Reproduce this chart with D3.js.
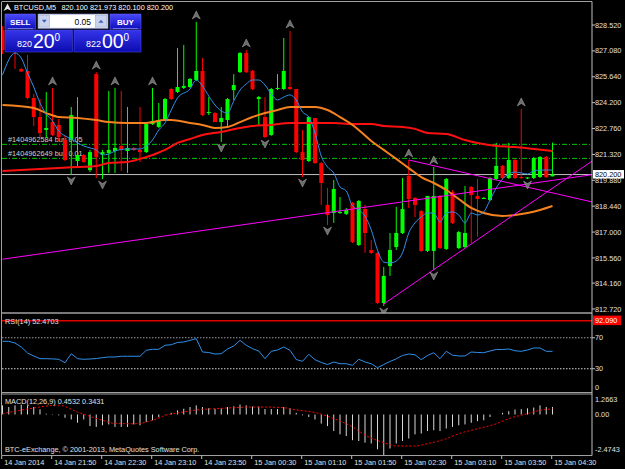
<!DOCTYPE html>
<html>
<head>
<meta charset="utf-8">
<script src="https://cdn.jsdelivr.net/npm/d3@7"></script>
<style>
  body { margin: 0; background: #000; }
  svg { display: block; }
  text { font-family: "Liberation Sans", Arial, sans-serif; }
</style>
</head>
<body>
<div id="chart"></div>
<script>
// BTCUSD M5 candles, 14 Jan 21:10 .. 15 Jan 04:30 (one value per bar)
const opens = [828.24, 827.69, 827.46, 826.07, 825.96, 824.46, 823.40, 822.68, 823.12, 822.96,
  822.12, 822.12, 820.95, 821.29, 820.45, 825.79, 821.34, 821.40, 821.51, 821.79,
  821.51, 821.68, 821.57, 821.45, 823.01, 822.85, 823.29, 824.96, 824.79, 825.02,
  825.07, 825.46, 825.96, 823.62, 823.62, 823.12, 823.23, 824.90, 825.90, 826.96,
  825.96, 824.40, 823.40, 822.40, 824.96, 824.96, 825.07, 824.96, 821.45, 820.95,
  823.35, 820.84, 818.51, 818.06, 818.06, 818.01, 818.62, 816.28, 818.28, 816.00,
  815.84, 813.05, 815.11, 816.17, 816.95, 820.12, 818.90, 818.17, 815.95, 815.95,
  819.01, 816.06, 819.23, 816.11, 816.17, 819.51, 819.01, 818.84, 818.78, 819.95,
  820.68, 820.01, 821.01, 820.06, 820.01, 820.01, 820.06, 821.18, 820.10];
const highs = [828.46, 827.91, 827.69, 826.13, 826.85, 824.68, 824.40, 824.79, 825.02, 823.29,
  822.35, 823.96, 824.51, 821.34, 821.57, 825.90, 821.57, 824.85, 825.02, 824.85,
  823.96, 821.73, 823.96, 823.12, 825.02, 824.18, 824.46, 825.02, 827.24, 827.41,
  825.57, 828.69, 826.68, 824.51, 823.68, 823.96, 824.46, 825.79, 827.02, 827.13,
  826.02, 824.57, 824.51, 825.02, 825.79, 827.80, 828.19, 824.96, 822.68, 823.46,
  823.35, 820.90, 819.45, 819.90, 818.95, 818.34, 818.67, 818.78, 818.51, 816.56,
  815.89, 815.06, 816.95, 818.40, 820.01, 821.01, 818.95, 818.23, 819.01, 820.62,
  819.06, 820.01, 819.34, 817.06, 819.56, 819.56, 819.95, 818.95, 820.06, 821.96,
  820.73, 821.96, 821.07, 823.85, 820.06, 821.18, 821.23, 821.23, 821.973];
const lows = [826.91, 827.13, 826.07, 825.90, 824.40, 822.90, 822.29, 822.23, 822.35, 822.07,
  820.95, 820.18, 820.56, 820.84, 820.34, 820.01, 819.95, 820.29, 820.29, 820.40,
  820.29, 821.51, 820.90, 821.40, 822.96, 822.79, 823.23, 824.35, 824.74, 824.96,
  825.02, 825.40, 823.46, 823.51, 823.12, 822.01, 822.79, 824.35, 825.85, 825.85,
  824.90, 822.96, 822.23, 822.35, 824.90, 824.90, 824.90, 821.40, 820.06, 820.90,
  820.79, 818.51, 817.39, 817.51, 818.01, 817.95, 816.39, 816.23, 815.84, 815.78,
  813.00, 812.89, 814.56, 816.00, 816.89, 818.34, 817.84, 815.89, 815.89, 814.89,
  816.06, 816.00, 817.45, 816.06, 816.11, 816.39, 816.73, 818.84, 818.73, 819.90,
  819.95, 819.95, 819.95, 819.95, 819.95, 819.95, 820.01, 820.01, 820.10];
const closes = [827.13, 827.35, 827.02, 825.93, 824.46, 823.40, 822.51, 822.79, 822.40, 822.29,
  821.01, 823.51, 821.29, 820.90, 821.45, 821.18, 821.45, 821.57, 821.68, 821.57,
  821.68, 821.57, 821.45, 823.01, 823.18, 823.23, 824.40, 824.40, 825.07, 825.13,
  825.52, 825.96, 823.51, 823.68, 823.12, 823.35, 824.40, 825.18, 826.96, 825.90,
  824.96, 824.51, 822.29, 824.96, 825.02, 825.96, 824.96, 821.45, 821.01, 823.40,
  820.84, 819.73, 817.95, 819.40, 818.12, 818.23, 816.45, 818.73, 816.95, 815.84,
  813.05, 814.56, 816.00, 816.95, 818.28, 818.84, 818.51, 815.95, 819.01, 819.01,
  816.11, 819.95, 817.51, 817.00, 816.95, 819.06, 818.84, 818.90, 820.01, 820.68,
  820.01, 821.01, 820.01, 820.01, 820.04, 821.12, 821.18, 820.06, 820.20];

// moving averages: [bar index, price]
const fastMA = [[0, 825.74], [2, 826.96], [3, 826.68], [4, 825.85], [5, 825.07], [6, 824.18], [7, 823.57],
  [8, 823.18], [9, 822.62], [10, 822.35], [11, 822.18], [12, 821.96], [13, 821.79], [14, 821.68],
  [15, 821.57], [16, 821.29], [17, 821.34], [18, 821.51], [20, 821.62], [22, 821.62], [23, 821.79],
  [24, 822.12], [25, 822.68], [26, 823.07], [27, 823.79], [28, 824.46], [30, 824.96], [31, 825.46],
  [32, 825.13], [33, 824.57], [34, 824.07], [35, 823.74], [36, 823.62], [37, 824.29], [38, 824.90],
  [39, 825.24], [40, 825.46], [41, 825.46], [42, 825.18], [43, 824.68], [44, 824.35], [45, 824.51],
  [46, 824.63], [47, 824.35], [48, 823.68], [49, 823.40], [50, 822.51], [51, 821.23], [52, 820.62],
  [53, 820.29], [54, 819.51], [55, 819.29], [56, 818.45], [57, 818.23], [58, 817.89], [59, 817.12],
  [60, 816.00], [61, 815.33], [62, 815.28], [63, 815.39], [64, 815.84], [65, 816.95], [66, 817.51],
  [67, 817.84], [68, 818.06], [69, 818.06], [70, 817.56], [71, 818.06], [72, 818.12], [73, 817.95],
  [74, 817.51], [75, 818.06], [76, 817.95], [77, 818.12], [78, 818.78], [79, 819.45], [80, 819.95],
  [81, 820.23], [82, 820.34], [83, 820.29], [84, 820.23], [85, 820.40], [86, 820.45], [87, 820.45],
  [88, 820.45]];
const midMA = [[0, 824.07], [5, 823.90], [7, 823.62], [9, 823.40], [12, 823.35], [15, 823.23], [17, 823.12],
  [20, 823.07], [23, 823.07], [26, 823.23], [27, 823.23], [30, 823.07], [32, 822.96], [34, 822.79],
  [36, 822.85], [38, 823.12], [40, 823.40], [42, 823.62], [44, 823.79], [46, 823.96], [50, 823.96],
  [52, 823.79], [54, 823.40], [56, 822.96], [57, 822.68], [59, 822.07], [61, 821.57], [63, 821.07],
  [65, 820.56], [67, 820.06], [69, 819.73], [71, 819.34], [73, 818.84], [75, 818.34], [77, 818.06],
  [80, 817.89], [82, 817.95], [84, 818.06], [86, 818.23], [88, 818.45]];
const slowMA = [[0, 820.40], [3, 820.45], [9, 820.56], [12, 820.62], [15, 820.68], [17, 820.84], [20, 820.90],
  [22, 821.07], [24, 821.29], [26, 821.57], [28, 821.96], [30, 822.18], [32, 822.40], [35, 822.57],
  [38, 822.79], [40, 822.90], [43, 822.96], [46, 823.07], [50, 823.07], [53, 823.07], [56, 823.01],
  [59, 823.01], [61, 822.90], [64, 822.85], [66, 822.74], [68, 822.51], [71, 822.46], [74, 822.12],
  [76, 821.96], [79, 821.79], [82, 821.73], [85, 821.62], [88, 821.51]];

// fractal marks (bar indices)
const upFractals = [8, 15, 18, 24, 31, 39, 46, 65, 69, 83];
const downFractals = [11, 16, 35, 42, 48, 52, 61, 69, 84];

// trend lines: [bar, price] start and a second anchor, extended to the right edge
const trendStart = [[0, 815.49], [61, 813.00], [65, 821.01]];
const trendEnd = [[60, 818.48], [88, 819.44], [88, 819.18]];

// open orders
const orderPrices = [821.88, 821.10];
const orderLabels = ["#1404962584 buy 0.05", "#1404962649 buy 0.01"];
const bidPrice = 820.20;

// RSI(14), one value per bar
const rsiVals = [65.4, 65.4, 63.2, 58.1, 50.3, 46.5, 43.0, 43.0, 42.7, 42.2,
  37.8, 49.4, 43.0, 42.2, 42.6, 43.2, 44.3, 45.2, 45.2, 46.1,
  46.1, 46.1, 46.1, 53.8, 55.1, 55.1, 60.3, 61.0, 63.9, 64.5,
  66.7, 68.8, 51.6, 51.0, 49.0, 49.4, 55.5, 59.4, 66.7, 60.3,
  55.9, 52.9, 43.0, 52.5, 54.2, 58.1, 53.8, 41.9, 39.6, 48.6,
  41.7, 38.1, 35.5, 38.7, 36.5, 36.5, 34.5, 42.2, 38.7, 36.5,
  31.4, 35.5, 39.4, 42.8, 47.1, 49.0, 48.0, 41.7, 47.1, 50.7,
  43.0, 52.5, 47.5, 46.5, 46.5, 51.6, 51.0, 50.7, 52.9, 54.8,
  54.8, 55.5, 53.2, 52.5, 54.2, 56.8, 56.8, 52.5, 52.47];
const rsiLevels = [70, 30];
const rsiHLine = 92.09;

// MACD(12,26,9): histogram per bar, signal read at sample bars
const macdHist = [0.55, 0.45, 0.55, 0.59, 0.55, 0.45, 0.31, 0.05, 0.02, -0.05,
  -0.2, -0.3, -0.5, -0.3, -0.7, -0.75, -0.65, -0.6, -0.75, -0.75,
  -0.75, -0.6, -0.65, -0.45, -0.35, -0.15, 0.02, 0.1, 0.25, 0.35,
  0.45, 0.55, 0.45, 0.38, 0.33, 0.38, 0.45, 0.5, 0.6, 0.55,
  0.48, 0.48, 0.33, 0.33, 0.33, 0.45, 0.38, 0.1, -0.05, -0.15,
  -0.3, -0.55, -0.7, -1.0, -1.2, -1.3, -1.55, -1.6, -1.7, -1.75,
  -2.1, -2.47, -2.05, -1.75, -1.6, -1.45, -1.2, -1.15, -1.0, -0.95,
  -1.0, -0.85, -0.75, -0.65, -0.6, -0.5, -0.4, -0.35, -0.15, 0.0,
  0.1, 0.2, 0.3, 0.32, 0.37, 0.42, 0.55, 0.45, 0.4532];
const macdSignal = [[0, 0.05], [4, 0.33], [9, 0.56], [12, 0.15], [16, -0.35], [18, -0.54], [21, -0.56],
  [24, -0.35], [26, -0.06], [29, 0.15], [32, 0.31], [34, 0.35], [37, 0.41], [40, 0.45], [42, 0.45],
  [45, 0.41], [47, 0.27], [50, 0.12], [53, -0.25], [56, -0.75], [58, -1.24], [61, -1.70], [63, -1.90],
  [66, -1.90], [68, -1.76], [71, -1.46], [73, -1.16], [76, -0.86], [79, -0.56], [81, -0.25], [84, 0.05],
  [86, 0.25], [88, 0.3431]];

// axis labels
const priceTicks = [828.52, 827.08, 825.64, 824.20, 822.76, 821.32, 819.88, 818.44, 817.00, 815.56, 814.16, 812.72];
const timeTickBars = [0, 8, 16, 24, 32, 40, 48, 56, 64, 72, 80, 88];
const timeLabels = ["14 Jan 2014", "14 Jan 21:50", "14 Jan 22:30", "14 Jan 23:10", "14 Jan 23:50", "15 Jan 00:30",
  "15 Jan 01:10", "15 Jan 01:50", "15 Jan 02:30", "15 Jan 03:10", "15 Jan 03:50", "15 Jan 04:30"];

// layout
const width = 625, height = 469;
const left = 2, right = 592;
const mainBox = { top: 2, bottom: 313 };
const rsiBox = { top: 314, bottom: 392 };
const macdBox = { top: 393.5, bottom: 455.5 };
const fontSize = 7.3;
const axisColor = "#a0a0a0";
const labelColor = "#e0e0e0";

const svg = d3.select("#chart").append("svg")
  .attr("width", width).attr("height", height)
  .style("background", "#000");

const x = d3.scaleLinear().domain([0, closes.length - 1]).range([2.5, 552.5]);
const y = d3.scaleLinear().domain([812.72, 828.52]).range([309, 25]);
const yRsi = d3.scaleLinear().domain([0, 100]).range([rsiBox.bottom, 314.5]);
const yMacd = d3.scaleLinear().domain([-2.4743, 1.2663]).range([macdBox.bottom, macdBox.top]);

const defs = svg.append("defs");
defs.append("clipPath").attr("id", "clipMain").append("rect")
  .attr("x", left).attr("y", mainBox.top).attr("width", right - left).attr("height", mainBox.bottom - mainBox.top);
defs.append("clipPath").attr("id", "clipRsi").append("rect")
  .attr("x", left).attr("y", rsiBox.top).attr("width", right - left).attr("height", rsiBox.bottom - rsiBox.top);
defs.append("clipPath").attr("id", "clipMacd").append("rect")
  .attr("x", left).attr("y", macdBox.top).attr("width", right - left).attr("height", macdBox.bottom - macdBox.top);

const btnGrad = defs.append("linearGradient").attr("id", "btnGrad").attr("x1", 0).attr("y1", 0).attr("x2", 0).attr("y2", 1);
btnGrad.append("stop").attr("offset", "0%").attr("stop-color", "#4b4bf5");
btnGrad.append("stop").attr("offset", "55%").attr("stop-color", "#2828dc");
btnGrad.append("stop").attr("offset", "100%").attr("stop-color", "#1010b8");
const boxGrad = defs.append("linearGradient").attr("id", "boxGrad").attr("x1", 0).attr("y1", 0).attr("x2", 0).attr("y2", 1);
boxGrad.append("stop").attr("offset", "0%").attr("stop-color", "#3535ea");
boxGrad.append("stop").attr("offset", "100%").attr("stop-color", "#0c0cb0");

// ---------- main price window ----------
const main = svg.append("g").attr("clip-path", "url(#clipMain)");

// order lines with their labels
orderPrices.forEach((p, k) => {
  main.append("line")
    .attr("x1", left).attr("x2", right).attr("y1", y(p)).attr("y2", y(p))
    .attr("stroke", "#00c800").attr("stroke-dasharray", "5,2,1,2");
  main.append("text")
    .attr("x", 8).attr("y", y(p) - 2)
    .attr("font-size", fontSize).attr("fill", "#d0d0d0")
    .text(orderLabels[k]);
});

// bid line
main.append("line")
  .attr("x1", left).attr("x2", right).attr("y1", y(bidPrice)).attr("y2", y(bidPrice))
  .attr("stroke", "#c0c0c0");

// candles
const bars = d3.range(closes.length);
const bull = (i) => closes[i] >= opens[i];
main.append("g").selectAll("line").data(bars).join("line")
  .attr("x1", (i) => x(i)).attr("x2", (i) => x(i))
  .attr("y1", (i) => y(highs[i])).attr("y2", (i) => y(lows[i]))
  .attr("stroke", (i) => (bull(i) ? "#00ff00" : "#ff0000"));
main.append("g").selectAll("rect").data(bars).join("rect")
  .attr("x", (i) => x(i) - 2).attr("width", 4)
  .attr("y", (i) => y(Math.max(opens[i], closes[i])))
  .attr("height", (i) => Math.max(1, Math.abs(y(opens[i]) - y(closes[i]))))
  .attr("fill", (i) => (bull(i) ? "#00ff00" : "#ff0000"));

// moving averages
const maLine = d3.line().x((d) => x(d[0])).y((d) => y(d[1])).curve(d3.curveMonotoneX);
main.append("path").attr("d", maLine(slowMA)).attr("fill", "none").attr("stroke", "#ff1010").attr("stroke-width", 2);
main.append("path").attr("d", maLine(midMA)).attr("fill", "none").attr("stroke", "#f5821f").attr("stroke-width", 2);
main.append("path").attr("d", maLine(fastMA)).attr("fill", "none").attr("stroke", "#2f8fe8").attr("stroke-width", 1);

// trend lines, extended to the right edge
trendStart.forEach((s, k) => {
  const e = trendEnd[k];
  const x0 = x(s[0]), y0 = y(s[1]), x1 = x(e[0]), y1 = y(e[1]);
  const slope = (y1 - y0) / (x1 - x0);
  main.append("line")
    .attr("x1", x0).attr("y1", y0)
    .attr("x2", right).attr("y2", y0 + slope * (right - x0))
    .attr("stroke", "#ff00ff");
});

// fractal arrows
const upArrow = "M0,-4 L4,4 L0,1.5 L-4,4 Z";
const downArrow = "M0,4 L4,-4 L0,-1.5 L-4,-4 Z";
main.append("g").selectAll("path").data(upFractals).join("path")
  .attr("d", upArrow)
  .attr("transform", (i) => `translate(${x(i)},${y(highs[i]) - 7})`)
  .attr("fill", "#6c6c6c").attr("stroke", "#a8a8a8").attr("stroke-width", 0.5);
main.append("g").selectAll("path").data(downFractals).join("path")
  .attr("d", downArrow)
  .attr("transform", (i) => `translate(${x(i)},${y(lows[i]) + 6})`)
  .attr("fill", "#6c6c6c").attr("stroke", "#a8a8a8").attr("stroke-width", 0.5);

// ---------- RSI window ----------
const rsi = svg.append("g").attr("clip-path", "url(#clipRsi)");
rsi.append("line")
  .attr("x1", left).attr("x2", right).attr("y1", yRsi(rsiHLine)).attr("y2", yRsi(rsiHLine))
  .attr("stroke", "#e00000").attr("stroke-width", 1.5);
rsiLevels.forEach((lv, k) => {
  rsi.append("line")
    .attr("x1", left).attr("x2", right).attr("y1", yRsi(lv)).attr("y2", yRsi(lv))
    .attr("stroke", k === 0 ? "#9a9a9a" : "#d8d8d8").attr("stroke-dasharray", "1.5,1.5");
});
rsi.append("path")
  .attr("d", d3.line().x((d, i) => x(i)).y((d) => yRsi(d))(rsiVals))
  .attr("fill", "none").attr("stroke", "#2f8fe8");
svg.append("text").attr("x", 5).attr("y", 323.5).attr("font-size", fontSize).attr("fill", labelColor)
  .text("RSI(14) 52.4703");

// ---------- MACD window ----------
const macd = svg.append("g").attr("clip-path", "url(#clipMacd)");
macd.append("g").selectAll("line").data(macdHist).join("line")
  .attr("x1", (d, i) => x(i)).attr("x2", (d, i) => x(i))
  .attr("y1", yMacd(0)).attr("y2", (d) => yMacd(d))
  .attr("stroke", "#d8d8d8");
macd.append("path")
  .attr("d", d3.line().x((d) => x(d[0])).y((d) => yMacd(d[1])).curve(d3.curveMonotoneX)(macdSignal))
  .attr("fill", "none").attr("stroke", "#ff0000").attr("stroke-dasharray", "2,2");
svg.append("text").attr("x", 5).attr("y", 403.5).attr("font-size", fontSize).attr("fill", labelColor)
  .text("MACD(12,26,9) 0.4532 0.3431");
svg.append("text").attr("x", 5).attr("y", 452).attr("font-size", fontSize).attr("fill", labelColor)
  .text("BTC-eExchange, \u00a9 2001-2013, MetaQuotes Software Corp.");

// ---------- frames ----------
const frame = svg.append("g").attr("stroke", axisColor).attr("fill", "none");
frame.append("line").attr("x1", left).attr("x2", right).attr("y1", 1.5).attr("y2", 1.5);
frame.append("line").attr("x1", left).attr("x2", right).attr("y1", mainBox.bottom).attr("y2", mainBox.bottom).attr("stroke-width", 1.5);
frame.append("line").attr("x1", left).attr("x2", right).attr("y1", rsiBox.bottom + 0.5).attr("y2", rsiBox.bottom + 0.5);
frame.append("line").attr("x1", left).attr("x2", right).attr("y1", macdBox.top + 0.5).attr("y2", macdBox.top + 0.5);
frame.append("line").attr("x1", left).attr("x2", right).attr("y1", macdBox.bottom).attr("y2", macdBox.bottom);
frame.append("line").attr("x1", 1.5).attr("x2", 1.5).attr("y1", 1.5).attr("y2", macdBox.bottom);
frame.append("line").attr("x1", right).attr("x2", right).attr("y1", 1.5).attr("y2", macdBox.bottom).attr("stroke", "#c0c0c0");

// price axis (the bid box sits on top of the nearby tick label, as in the terminal)
const axisG = svg.append("g");
priceTicks.forEach((p) => {
  axisG.append("line").attr("x1", right).attr("x2", right + 3).attr("y1", y(p)).attr("y2", y(p)).attr("stroke", "#c0c0c0");
  axisG.append("text").attr("x", 595).attr("y", y(p) + 2.6).attr("font-size", fontSize).attr("fill", labelColor)
    .text(d3.format(".3f")(p));
});
axisG.append("rect").attr("x", 593).attr("y", y(bidPrice) - 4.5).attr("width", 31).attr("height", 8.5).attr("fill", "#fff");
axisG.append("text").attr("x", 595).attr("y", y(bidPrice) + 2.4).attr("font-size", fontSize).attr("fill", "#000")
  .text(d3.format(".3f")(bidPrice));

// RSI axis
[70, 30].forEach((v) => {
  axisG.append("line").attr("x1", right).attr("x2", right + 3).attr("y1", yRsi(v)).attr("y2", yRsi(v)).attr("stroke", "#c0c0c0");
  axisG.append("text").attr("x", 595).attr("y", yRsi(v) + 2.6).attr("font-size", fontSize).attr("fill", labelColor).text(v);
});
axisG.append("text").attr("x", 595).attr("y", 389.5).attr("font-size", fontSize).attr("fill", labelColor).text("0");
axisG.append("rect").attr("x", 593).attr("y", yRsi(rsiHLine) - 5).attr("width", 28).attr("height", 9.5).attr("fill", "#ff0000");
axisG.append("text").attr("x", 595).attr("y", yRsi(rsiHLine) + 2.6).attr("font-size", fontSize).attr("fill", "#fff")
  .text(d3.format(".3f")(rsiHLine));

// MACD axis
axisG.append("text").attr("x", 595).attr("y", 402).attr("font-size", fontSize).attr("fill", labelColor).text("1.2663");
axisG.append("text").attr("x", 595).attr("y", yMacd(0) + 2.8).attr("font-size", fontSize).attr("fill", labelColor).text("0.00");
axisG.append("text").attr("x", 595).attr("y", 452).attr("font-size", fontSize).attr("fill", labelColor).text("-2.4743");

// time axis
timeTickBars.forEach((b, k) => {
  const tx = x(b) - 0.8;
  axisG.append("line").attr("x1", tx).attr("x2", tx).attr("y1", macdBox.bottom).attr("y2", 459).attr("stroke", "#c0c0c0");
  axisG.append("text").attr("x", tx + 2.5).attr("y", 464.5).attr("font-size", fontSize).attr("fill", labelColor)
    .text(timeLabels[k]);
});

// ---------- header and one-click trading panel ----------
svg.append("path").attr("d", "M3.5,11 L7.5,3.5 L11.5,11 L7.5,9 Z").attr("fill", "#e0e0e0");
svg.append("text").attr("x", 14).attr("y", 10).attr("font-size", fontSize).attr("fill", "#fff").text("BTCUSD,M5");
svg.append("text").attr("x", 61.5).attr("y", 10).attr("font-size", fontSize).attr("fill", "#fff")
  .text("820.100 821.973 820.100 820.200");

const tp = svg.append("g");
tp.append("rect").attr("x", 5).attr("y", 14).attr("width", 30.5).attr("height", 15).attr("fill", "url(#btnGrad)").attr("stroke", "#6a6aff").attr("stroke-width", 0.5);
tp.append("rect").attr("x", 110).attr("y", 14).attr("width", 31).attr("height", 15).attr("fill", "url(#btnGrad)").attr("stroke", "#6a6aff").attr("stroke-width", 0.5);
tp.append("rect").attr("x", 5).attr("y", 30).attr("width", 67.5).attr("height", 22).attr("fill", "url(#boxGrad)").attr("stroke", "#5050f0").attr("stroke-width", 0.5);
tp.append("rect").attr("x", 74).attr("y", 30).attr("width", 67).attr("height", 22).attr("fill", "url(#boxGrad)").attr("stroke", "#5050f0").attr("stroke-width", 0.5);
tp.append("line").attr("x1", 8).attr("x2", 33).attr("y1", 28.5).attr("y2", 28.5).attr("stroke", "#8c8cff").attr("stroke-width", 0.7);
tp.append("line").attr("x1", 113).attr("x2", 138).attr("y1", 28.5).attr("y2", 28.5).attr("stroke", "#8c8cff").attr("stroke-width", 0.7);

// lot size box
tp.append("rect").attr("x", 38).attr("y", 14).attr("width", 70).attr("height", 14.5).attr("fill", "#dfe4f2").attr("stroke", "#7c88b8").attr("stroke-width", 0.6);
tp.append("rect").attr("x", 50).attr("y", 15).attr("width", 45).attr("height", 12.5).attr("fill", "#fff");
tp.append("rect").attr("x", 39).attr("y", 15.5).attr("width", 10.5).attr("height", 11.5).attr("fill", "#c9d3ee").attr("stroke", "#9aa6d0").attr("stroke-width", 0.5);
tp.append("rect").attr("x", 95.5).attr("y", 15.5).attr("width", 11).attr("height", 11.5).attr("fill", "#c9d3ee").attr("stroke", "#9aa6d0").attr("stroke-width", 0.5);
tp.append("path").attr("d", "M41.8,19.8 L46.8,19.8 L44.3,22.8 Z").attr("fill", "#3a5fb8");
tp.append("path").attr("d", "M98.5,22.8 L103.5,22.8 L101,19.8 Z").attr("fill", "#3a5fb8");
tp.append("text").attr("x", 91).attr("y", 24.8).attr("text-anchor", "end").attr("font-size", 8.5).attr("fill", "#000").text("0.05");

tp.append("text").attr("x", 20.3).attr("y", 25).attr("text-anchor", "middle").attr("font-size", 8).attr("font-weight", "bold").attr("fill", "#fff").text("SELL");
tp.append("text").attr("x", 125.5).attr("y", 25).attr("text-anchor", "middle").attr("font-size", 8).attr("font-weight", "bold").attr("fill", "#fff").text("BUY");

// bid / ask quotes
const quotes = [{ x0: 17, small: "820", big: "20", sup: "0" }, { x0: 86, small: "822", big: "00", sup: "0" }];
quotes.forEach((q) => {
  tp.append("text").attr("x", q.x0).attr("y", 47).attr("font-size", 9).attr("fill", "#fff").text(q.small);
  tp.append("text").attr("x", q.x0 + 16).attr("y", 48.3).attr("font-size", 19.5).attr("fill", "#fff").text(q.big);
  tp.append("text").attr("x", q.x0 + 37.5).attr("y", 40.5).attr("font-size", 10).attr("fill", "#fff").text(q.sup);
});
</script>
</body>
</html>
